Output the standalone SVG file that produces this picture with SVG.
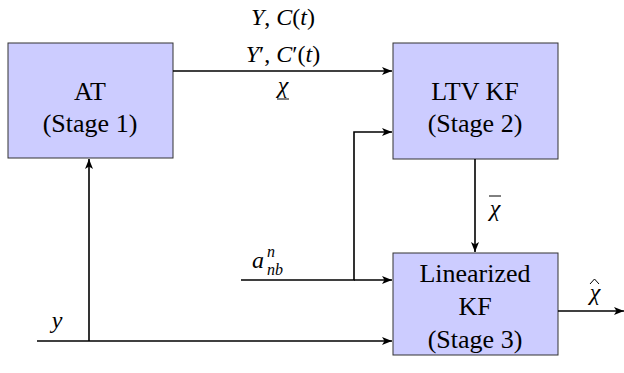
<svg xmlns="http://www.w3.org/2000/svg" width="624" height="373" viewBox="0 0 624 373">
<style>
.box{fill:#ccccff;stroke:#333;stroke-width:1}
.t{font-family:"Liberation Serif","Times New Roman","DejaVu Serif",serif;font-size:26px;fill:#000;text-anchor:middle}
.m{font-size:24px}
.s{font-size:16px;text-anchor:start}
.i{font-style:italic}
.ln{fill:none;stroke:#000;stroke-width:1.6}
</style>
<defs>
<marker id="ah" viewBox="0 0 10 8" refX="10" refY="4" markerWidth="10" markerHeight="8" markerUnits="userSpaceOnUse" orient="auto">
<path d="M0,0 L10,4 L0,8 L2.5,4 Z" fill="#000"/>
</marker>
</defs>
<rect width="624" height="373" fill="#fff"/>
<g id="at">
<rect class="box" x="8" y="43" width="165" height="115"/>
<text class="t" x="90" y="100">AT</text>
<text class="t" x="90" y="132">(Stage 1)</text>
</g>
<g id="ltv">
<rect class="box" x="393" y="43" width="165" height="116"/>
<text class="t" x="475" y="100">LTV KF</text>
<text class="t" x="475" y="132">(Stage 2)</text>
</g>
<g id="lin">
<rect class="box" x="393" y="253" width="165" height="102"/>
<text class="t" x="475" y="282">Linearized</text>
<text class="t" x="475" y="315">KF</text>
<text class="t" x="475" y="348">(Stage 3)</text>
</g>
<g id="connectors">
<line class="ln" x1="173" y1="71" x2="392" y2="71" marker-end="url(#ah)"/>
<polyline class="ln" points="241,280 354,280 354,132 392,132" marker-end="url(#ah)"/>
<line class="ln" x1="354" y1="280" x2="392" y2="280" marker-end="url(#ah)"/>
<line class="ln" x1="37" y1="341" x2="392" y2="341" marker-end="url(#ah)"/>
<line class="ln" x1="89" y1="341" x2="89" y2="159" marker-end="url(#ah)"/>
<line class="ln" x1="475" y1="159" x2="475" y2="252" marker-end="url(#ah)"/>
<line class="ln" x1="558" y1="311" x2="624" y2="311" marker-end="url(#ah)"/>
</g>
<g id="labels">
<text class="t m" x="283" y="25"><tspan class="i">Y</tspan>, <tspan class="i">C</tspan>(<tspan class="i">t</tspan>)</text>
<text class="t m" x="283" y="62"><tspan class="i">Y</tspan>′, <tspan class="i">C</tspan>′(<tspan class="i">t</tspan>)</text>
<text class="t m i" x="283" y="93">χ</text>
<line x1="277" y1="99" x2="289" y2="99" stroke="#000" stroke-width="1"/>
<text class="t m i" x="258" y="268">a</text>
<text class="t s i" x="267" y="257">n</text>
<text class="t s i" x="267" y="275">nb</text>
<text class="t m i" x="57" y="328">y</text>
<text class="t m i" x="495" y="216">χ</text>
<line x1="489" y1="196" x2="501" y2="196" stroke="#000" stroke-width="1"/>
<text class="t m i" x="595" y="300">χ</text>
<path d="M590,284 L594.5,279 L599,284" fill="none" stroke="#000" stroke-width="1"/>
</g>
</svg>
